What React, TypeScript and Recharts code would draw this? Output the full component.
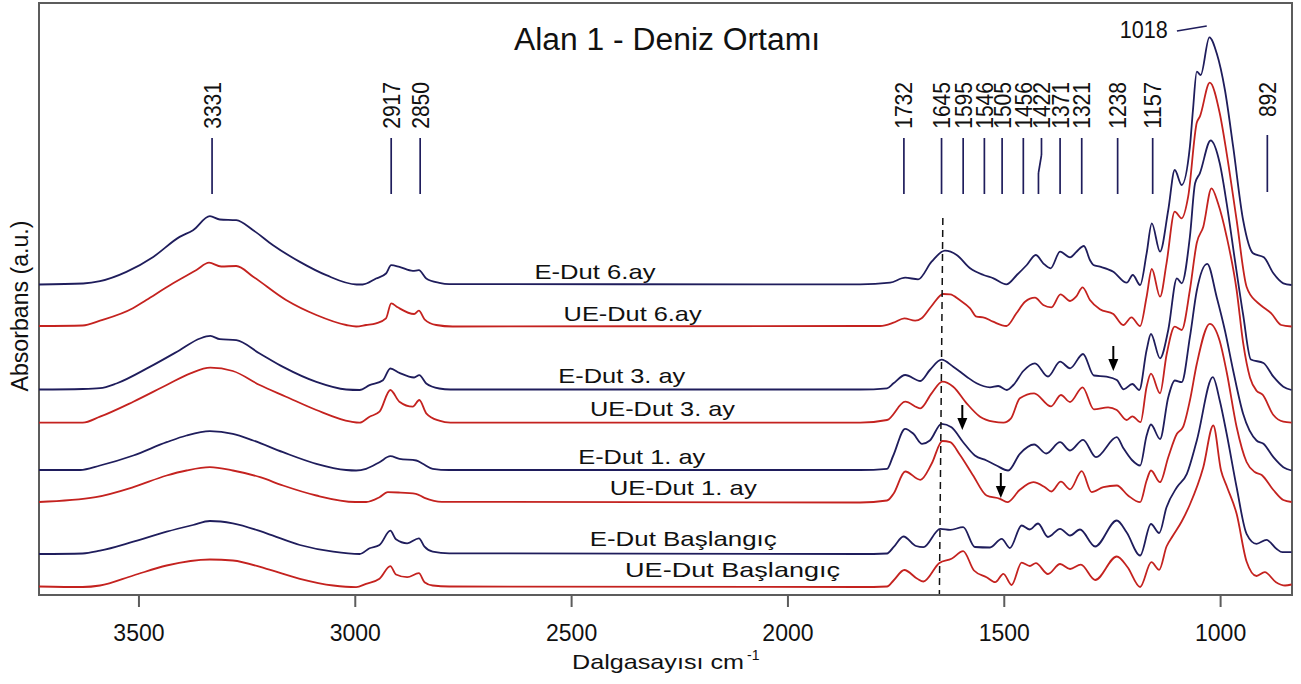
import React from 'react';
import {
  LineChart,
  Line,
  XAxis,
  YAxis,
  ReferenceLine,
  ReferenceDot,
  ReferenceArea,
  Customized,
} from 'recharts';

const NAVY = '#1f1d5c';
const RED = '#c4221f';
const FRAME = '#5c5c5c';
const FONT = '"Liberation Sans", Arial, Helvetica, sans-serif';

// ---- data: [wavenumber cm-1, absorbance above own baseline (a.u.)] ----
const eDut6: [number, number][] = [
  [3731, 0], [3629, 1], [3590, 3.3], [3529, 12.6], [3467, 27.6], [3406, 47.6], [3375, 54.3], [3336, 68.3],
  [3313, 65], [3275, 64.3], [3236, 54.3], [3190, 39.3], [3128, 22.6], [3067, 9.3], [2997, 0], [2983, 0],
  [2952, 6], [2929, 11], [2917, 19.3], [2898, 17.6], [2867, 13.6], [2853, 14.3], [2836, 6], [2806, 1.6],
  [2783, 0.3], [1833, 0.2], [1764, 1.8], [1729, 6.8], [1699, 5.2], [1668, 22.8], [1637, 33.8], [1610, 29.5],
  [1579, 16.2], [1548, 9.5], [1525, 6.2], [1495, 0.2], [1471, 9.5], [1448, 19.5], [1427, 29.5], [1410, 21.2],
  [1393, 16.2], [1371, 32.8], [1348, 27.2], [1333, 32.8], [1316, 38.5], [1302, 24.5], [1294, 19.5], [1279, 17.8],
  [1248, 12.8], [1217, 1.8], [1203, 9.5], [1186, -0.5], [1171, 31.2], [1159, 61.2], [1140, 32.8], [1121, 74.5],
  [1106, 114.5], [1090, 99.5], [1071, 137.8], [1064, 174], [1055, 212.8], [1046, 209.5], [1026, 247.2],
  [1009, 231.2], [990, 194.5], [971, 137.8], [948, 64.5], [925, 31.2], [900, 27.2], [878, 11.2], [855, 1.2],
  [836, -0.5],
];
const ueDut6: [number, number][] = [
  [3731, 0.5], [3630, 1], [3590, 5.8], [3514, 18.2], [3483, 26.5], [3421, 43.2], [3367, 56.5], [3338, 63.8],
  [3310, 60], [3275, 60.5], [3236, 49.8], [3160, 26.5], [3090, 11.5], [3021, 1.5], [2998, 0], [2975, 1.5],
  [2952, 3.2], [2929, 8.2], [2917, 23.2], [2902, 19.2], [2864, 12.5], [2853, 15.8], [2840, 7.2], [2813, 1.5],
  [2775, 0], [1833, 0.5], [1787, 0.5], [1756, 3.8], [1731, 8.2], [1706, 5.8], [1691, 8.2], [1668, 20.5],
  [1641, 32.5], [1625, 32.2], [1603, 26.5], [1579, 18.2], [1564, 9.8], [1549, 9.2], [1526, 4.8], [1495, 0.5],
  [1472, 13.2], [1452, 24.8], [1429, 28.8], [1410, 21.5], [1391, 19.2], [1370, 32.2], [1348, 25.5], [1334, 29.8],
  [1319, 39.2], [1302, 26.5], [1279, 17.2], [1248, 12.5], [1225, 1.5], [1206, 9.2], [1186, 0.5], [1171, 29.8],
  [1159, 57.5], [1140, 29.8], [1125, 63.2], [1106, 114.8], [1090, 108.2], [1075, 129.8], [1055, 204],
  [1048, 209.8], [1025, 243.8], [1002, 213.2], [986, 173.2], [963, 106.5], [940, 39.8], [917, 24.8], [905, 20.5],
  [883, 13.2], [860, 1.5], [836, 0],
];
const eDut3: [number, number][] = [
  [3731, 0], [3630, 0.5], [3590, 1.3], [3552, 6], [3475, 22.6], [3406, 39.3], [3359, 51], [3335, 53.6],
  [3313, 50.3], [3275, 49.3], [3221, 36], [3167, 22.6], [3090, 7.6], [3021, 0], [2990, -0.5], [2967, 4.3],
  [2936, 9.3], [2919, 21], [2898, 16.6], [2864, 12], [2852, 14.3], [2836, 6], [2806, 1], [2780, 0],
  [1833, 0], [1771, 1.2], [1756, 6.2], [1729, 14.5], [1694, 8.5], [1672, 19.5], [1645, 29.8], [1618, 22.8],
  [1587, 12.8], [1564, 6.2], [1533, 2.2], [1514, 3.5], [1494, -0.5], [1479, 4.5], [1456, 18.5], [1429, 26.2],
  [1399, 13], [1371, 27.8], [1348, 21.2], [1318, 35.5], [1293, 14], [1264, 12.8], [1240, 9.5], [1224, 0.2],
  [1204, 5.5], [1188, -0.5], [1171, 39.5], [1161, 55.5], [1140, 31.2], [1121, 59.5], [1101, 111.2],
  [1090, 106.2], [1071, 152.8], [1059, 206.2], [1048, 216.2], [1023, 249], [1002, 226.2], [986, 186.2],
  [967, 129.5], [948, 75], [930, 30], [901, 26.5], [878, 12.8], [855, 2.8], [836, -0.5],
];
const ueDut3: [number, number][] = [
  [3731, 0], [3630, 0], [3590, 6], [3513, 21], [3436, 37.7], [3381, 49.4], [3335, 55], [3283, 51.7],
  [3221, 37.7], [3160, 26], [3090, 12.7], [3010, 1], [2990, 0], [2967, 6], [2944, 11], [2919, 32.7],
  [2898, 21], [2867, 16], [2852, 22.7], [2836, 9.4], [2806, 2], [2780, 0], [1833, 0], [1771, 2.7],
  [1729, 21], [1694, 14.4], [1668, 29.4], [1643, 41], [1618, 36], [1587, 19.4], [1556, 6], [1525, 1],
  [1502, 0], [1485, 4], [1464, 24.4], [1431, 29.4], [1392, 16.4], [1369, 27.7], [1348, 20.7], [1319, 35.4],
  [1293, 13.4], [1260, 15.4], [1240, 12.7], [1217, 2.7], [1204, 6.4], [1185, 0.5], [1171, 36], [1161, 49],
  [1140, 29.4], [1125, 67.7], [1106, 96], [1090, 92.7], [1071, 132.7], [1055, 180], [1040, 196],
  [1021, 234.4], [1006, 219.4], [986, 186], [963, 132.7], [948, 80], [932, 45], [917, 32], [903, 28],
  [878, 7.7], [855, 1], [836, 0],
];
const eDut1: [number, number][] = [
  [3731, 0], [3636, 0], [3590, 4.5], [3513, 14.5], [3436, 27.8], [3390, 34.5], [3336, 38.8], [3283, 36.2],
  [3236, 29.5], [3167, 17.8], [3090, 6.2], [3021, 0], [2998, -0.5], [2975, 1.2], [2944, 7.8], [2919, 13.8],
  [2898, 11.2], [2859, 9.5], [2844, 6.2], [2821, 1.2], [2783, 0], [1833, 0], [1771, 1.2], [1757, 14],
  [1729, 41.2], [1710, 36.2], [1690, 26.2], [1672, 29.5], [1645, 46.2], [1622, 42.8], [1595, 27.8],
  [1568, 14.5], [1541, 9.5], [1518, 4.5], [1491, -0.5], [1464, 16.2], [1431, 25.5], [1403, 16.5],
  [1371, 27.8], [1348, 19.5], [1318, 30.2], [1288, 12.8], [1240, 32.8], [1225, 22], [1205, 10], [1186, 4.5],
  [1171, 34.5], [1161, 45.5], [1140, 31], [1121, 72.8], [1106, 89.5], [1090, 87.8], [1071, 132.8],
  [1055, 179.5], [1031, 206.2], [1009, 172.8], [990, 139.5], [971, 99.5], [948, 56.2], [917, 29.5],
  [901, 26.2], [878, 12.8], [855, 2.8], [836, -0.5],
];
const ueDut1: [number, number][] = [
  [3731, 0], [3600, 4.8], [3513, 14.8], [3436, 26.5], [3390, 31.5], [3336, 34.8], [3283, 31.5], [3220, 24.8],
  [3167, 16.5], [3090, 6.5], [3000, 0], [2975, 0], [2944, 4.8], [2925, 9.8], [2900, 9.5], [2860, 8.2],
  [2840, 4.2], [2800, 0.2], [1833, -0.5], [1771, 1.5], [1756, 8.2], [1729, 30.5], [1694, 22.2], [1668, 38.2],
  [1643, 61], [1625, 59.8], [1603, 47.5], [1572, 26.5], [1541, 6.5], [1510, 3.2], [1493, -0.2], [1464, 12.2],
  [1433, 19.8], [1406, 14.8], [1391, 10.5], [1369, 20.3], [1348, 12.7], [1321, 30.8], [1298, 9.8],
  [1271, 14.8], [1240, 16.5], [1214, 6.5], [1186, -0.2], [1171, 21.5], [1161, 31.5], [1140, 19.8],
  [1121, 44.8], [1101, 68.2], [1087, 74.8], [1071, 101.5], [1055, 138.2], [1025, 178.2], [1002, 161],
  [986, 130], [963, 75], [940, 40], [921, 30], [905, 27], [878, 12], [855, 2], [836, 0],
];
const eDut0: [number, number][] = [
  [3731, 0], [3630, 0.5], [3590, 3.3], [3513, 12.3], [3436, 22.3], [3375, 29], [3336, 33], [3283, 30.7],
  [3205, 20.7], [3128, 9], [3051, 2.3], [2990, 0], [2967, 5.7], [2944, 9], [2919, 23.3], [2906, 14.7],
  [2880, 10.7], [2853, 15.7], [2840, 7.3], [2821, 2.3], [2783, 0.7], [1833, 0], [1771, 0.5], [1756, 6.8],
  [1733, 17.5], [1704, 8], [1687, 6.8], [1648, 25.2], [1625, 24.2], [1595, 26.8], [1568, 7], [1533, 6.5],
  [1506, 15.2], [1487, 6], [1460, 28.5], [1441, 24.5], [1422, 30.5], [1399, 17], [1371, 25.2], [1348, 18.5],
  [1325, 24.5], [1290, 7.5], [1240, 33.5], [1217, 21.5], [1186, -1.5], [1161, 30], [1142, 21], [1125, 46.8],
  [1101, 66.8], [1078, 80.2], [1055, 113.5], [1018, 176.8], [1002, 153.5], [986, 120.2], [963, 66.8],
  [940, 20.2], [917, 10.2], [894, 14.2], [871, 5.2], [857, 1.8], [836, 1.8],
];
const ueDut0: [number, number][] = [
  [3731, 0], [3630, -0.5], [3590, 1], [3513, 11], [3436, 21], [3336, 27], [3283, 26], [3205, 17.7],
  [3128, 7.7], [3051, 1], [2998, -0.7], [2975, 2.7], [2944, 7.7], [2919, 20.3], [2906, 12], [2880, 9.3],
  [2853, 13.3], [2840, 4.3], [2821, 1], [2783, 0], [1833, -0.5], [1771, 0], [1756, 6], [1731, 16.5],
  [1701, 7.7], [1687, 5], [1650, 23.5], [1622, 27.7], [1595, 35.3], [1570, 16], [1541, 9.3], [1521, 4.3],
  [1502, 12.7], [1483, 1.5], [1460, 23.8], [1441, 20.5], [1427, 23.3], [1399, 12.5], [1371, 22.5],
  [1348, 17.5], [1323, 21.8], [1290, 6.5], [1240, 30], [1215, 19.3], [1186, -0.5], [1160, 24.3], [1142, 16.7],
  [1125, 40], [1110, 51], [1090, 65], [1071, 82], [1040, 119.3], [1017, 161], [999, 116], [985, 99.3],
  [963, 72.7], [940, 25], [917, 10.5], [898, 14.3], [872, 4.3], [851, 1], [836, 2],
];

const seriesNames = [
  'E-Dut 6.ay', 'UE-Dut 6.ay', 'E-Dut 3. ay', 'UE-Dut 3. ay',
  'E-Dut 1. ay', 'UE-Dut 1. ay', 'E-Dut Başlangıç', 'UE-Dut Başlangıç',
];
const seriesPoints = [eDut6, ueDut6, eDut3, ueDut3, eDut1, ueDut1, eDut0, ueDut0];
// vertical stacking offsets of each spectrum
const seriesOffsets = [310.5, 268.5, 205.5, 172.3, 125, 93, 41, 8.5];

const xTicks = [3500, 3000, 2500, 2000, 1500, 1000];
const peakLabels = [3331, 2917, 2850, 1732, 1645, 1595, 1546, 1505, 1456, 1422, 1371, 1321, 1238, 1157, 892];
const mainPeakLabel = 1018;

// ---- layout / styling ----
const X_DOMAIN: [number, number] = [835, 3731];
const Y_DOMAIN: [number, number] = [0, 592];
const seriesColors = [NAVY, RED, NAVY, RED, NAVY, RED, NAVY, RED];
// annotation anchor positions (wavenumber, chart units, text length px)
const nameAnchors: [number, number, number][] = [
  [2446, 316.5, 121], [2359, 274, 138], [2384, 212.5, 127], [2290, 179, 145],
  [2338, 131.5, 127], [2242, 100, 147], [2242, 49, 187], [2128, 18, 215],
];
const arrowAnchors: [number, number][] = [[1248, 224], [1597, 165], [1508, 97]];

const rows = seriesPoints.map((pts, i) => pts.map(([wn, a]) => ({ wn, y: seriesOffsets[i] + a })));

const rotLabel = (text: string) => (p: any) => (
  <text
    x={p.cx}
    y={p.cy}
    transform={`rotate(-90 ${p.cx} ${p.cy})`}
    textAnchor="end"
    dy="0.36em"
    fontSize={23.5}
    fontFamily={FONT}
    fill="#111"
    textLength={text.length * 11.7}
    lengthAdjust="spacingAndGlyphs"
  >
    {text}
  </text>
);

const nameLabel = (text: string, len: number) => (p: any) => (
  <text
    x={p.cx}
    y={p.cy}
    textAnchor="middle"
    fontSize={21}
    fontFamily={FONT}
    fill="#111"
    textLength={len}
    lengthAdjust="spacingAndGlyphs"
  >
    {text}
  </text>
);

const arrowShape = (p: any) => (
  <g>
    <line x1={p.cx} y1={p.cy - 25} x2={p.cx} y2={p.cy - 10} stroke="#000" strokeWidth={2} />
    <polygon points={`${p.cx - 5},${p.cy - 12} ${p.cx + 5},${p.cy - 12} ${p.cx},${p.cy}`} fill="#000" />
  </g>
);

const Decorations = () => (
  <g fontFamily={FONT} fill="#111">
    <text x={667} y={50} textAnchor="middle" fontSize={31} textLength={306} lengthAdjust="spacingAndGlyphs">
      Alan 1 - Deniz Ortamı
    </text>
    <text
      x={28}
      y={306}
      transform="rotate(-90 28 306)"
      textAnchor="middle"
      fontSize={23}
      textLength={171}
      lengthAdjust="spacingAndGlyphs"
    >
      Absorbans (a.u.)
    </text>
    <text x={572} y={669} fontSize={21} textLength={172} lengthAdjust="spacingAndGlyphs">
      Dalgasayısı cm
    </text>
    <text x={747} y={660} fontSize={14}>
      -1
    </text>
  </g>
);

export default function App() {
  return (
    <div style={{ position: 'absolute', left: 0, top: 0, background: '#fff' }}>
      <LineChart width={1301} height={684} margin={{ top: 3, right: 9, bottom: 29, left: 39 }}>
        <XAxis
          type="number"
          dataKey="wn"
          domain={X_DOMAIN}
          reversed
          allowDataOverflow
          ticks={xTicks}
          height={60}
          tickSize={12}
          tickMargin={18}
          axisLine={{ stroke: FRAME, strokeWidth: 2 }}
          tickLine={{ stroke: FRAME, strokeWidth: 2 }}
          tick={{ fill: '#111', fontSize: 23, fontFamily: FONT }}
        />
        <YAxis hide type="number" domain={Y_DOMAIN} allowDataOverflow />
        <ReferenceArea x1={X_DOMAIN[0]} x2={X_DOMAIN[1]} y1={Y_DOMAIN[0]} y2={Y_DOMAIN[1]} fill="none" stroke={FRAME} strokeWidth={2} ifOverflow="visible" />
        {rows.map((data, i) => (
          <Line
            key={seriesNames[i]}
            name={seriesNames[i]}
            data={data}
            dataKey="y"
            type="monotone"
            dot={false}
            activeDot={false}
            stroke={seriesColors[i]}
            strokeWidth={1.8}
            isAnimationActive={false}
          />
        ))}
        <ReferenceLine segment={[{ x: 1642, y: 377 }, { x: 1650, y: 0 }]} stroke="#111" strokeWidth={1.5} strokeDasharray="7 5" ifOverflow="visible" />
        {peakLabels.map((wn) =>
          wn === 1422 ? (
            <React.Fragment key={wn}>
              <ReferenceLine segment={[{ x: 1414, y: 457 }, { x: 1414, y: 440 }]} stroke={NAVY} strokeWidth={1.7} ifOverflow="visible" />
              <ReferenceLine segment={[{ x: 1414, y: 440 }, { x: 1421, y: 422 }]} stroke={NAVY} strokeWidth={1.7} ifOverflow="visible" />
              <ReferenceLine segment={[{ x: 1421, y: 422 }, { x: 1421, y: 401 }]} stroke={NAVY} strokeWidth={1.7} ifOverflow="visible" />
              <ReferenceDot x={1413} y={513} ifOverflow="visible" shape={rotLabel(String(wn))} />
            </React.Fragment>
          ) : (
            <React.Fragment key={wn}>
              <ReferenceLine
                segment={[{ x: wn, y: wn === 892 ? 460 : 457 }, { x: wn, y: wn === 892 ? 403 : 401 }]}
                stroke={NAVY}
                strokeWidth={1.7}
                ifOverflow="visible"
              />
              <ReferenceDot x={wn} y={513} ifOverflow="visible" shape={rotLabel(String(wn))} />
            </React.Fragment>
          )
        )}
        <ReferenceLine segment={[{ x: 1101, y: 564 }, { x: 1032, y: 569 }]} stroke={NAVY} strokeWidth={1.7} ifOverflow="visible" />
        <ReferenceDot
          x={1122}
          y={557}
          ifOverflow="visible"
          shape={(p: any) => (
            <text x={p.cx} y={p.cy} textAnchor="end" fontSize={23} fontFamily={FONT} fill="#111" textLength={48} lengthAdjust="spacingAndGlyphs">
              {String(mainPeakLabel)}
            </text>
          )}
        />
        {nameAnchors.map(([wn, y, len], i) => (
          <ReferenceDot key={'n' + i} x={wn} y={y} ifOverflow="visible" shape={nameLabel(seriesNames[i], len)} />
        ))}
        {arrowAnchors.map(([wn, y], i) => (
          <ReferenceDot key={'a' + i} x={wn} y={y} ifOverflow="visible" shape={arrowShape} />
        ))}
        <Customized component={Decorations} />
      </LineChart>
    </div>
  );
}
